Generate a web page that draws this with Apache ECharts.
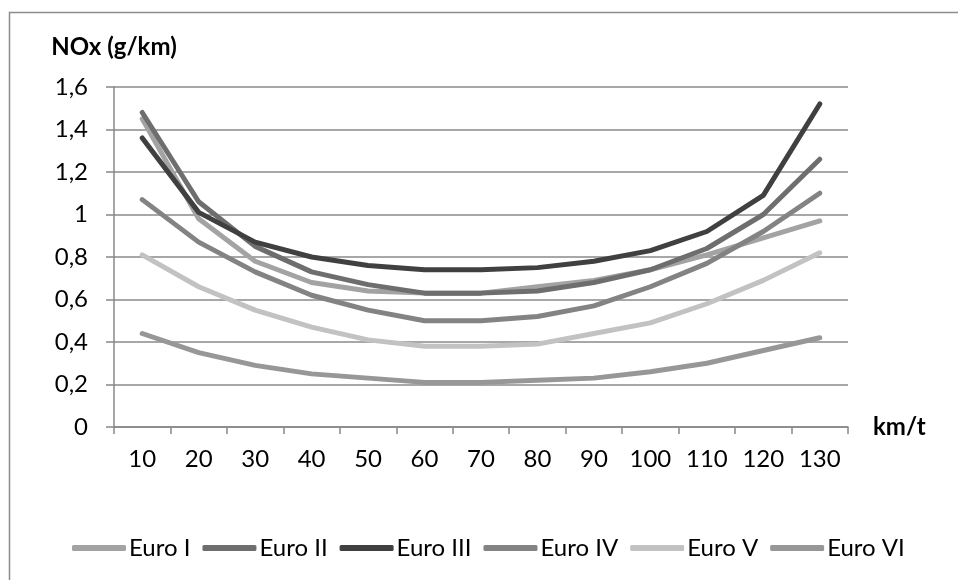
<!DOCTYPE html>
<html>
<head>
<meta charset="utf-8">
<script src="https://cdn.jsdelivr.net/npm/echarts@6/dist/echarts.min.js"></script>
<style>html,body{margin:0;padding:0;background:#fff}#c{width:958px;height:580px}</style>
</head>
<body>
<div id="c"></div>
<script>
var categories = ['10','20','30','40','50','60','70','80','90','100','110','120','130'];
var euroI   = [1.45, 0.98, 0.78, 0.68, 0.64, 0.63, 0.63, 0.66, 0.69, 0.74, 0.81, 0.89, 0.97];
var euroII  = [1.48, 1.06, 0.85, 0.73, 0.67, 0.63, 0.63, 0.64, 0.68, 0.74, 0.84, 1.00, 1.26];
var euroIII = [1.36, 1.01, 0.87, 0.80, 0.76, 0.74, 0.74, 0.75, 0.78, 0.83, 0.92, 1.09, 1.52];
var euroIV  = [1.07, 0.87, 0.73, 0.62, 0.55, 0.50, 0.50, 0.52, 0.57, 0.66, 0.77, 0.92, 1.10];
var euroV   = [0.81, 0.66, 0.55, 0.47, 0.41, 0.38, 0.38, 0.39, 0.44, 0.49, 0.58, 0.69, 0.82];
var euroVI  = [0.44, 0.35, 0.29, 0.25, 0.23, 0.21, 0.21, 0.22, 0.23, 0.26, 0.30, 0.36, 0.42];
var seriesNames = ['Euro I','Euro II','Euro III','Euro IV','Euro V','Euro VI'];
var seriesData = [euroI, euroII, euroIII, euroIV, euroV, euroVI];
var colors = ['#a3a3a3','#6e6e6e','#404040','#838383','#c2c2c2','#979797'];
var FONT = 'Lato';

var chart = echarts.init(document.getElementById('c'), null, {renderer:'canvas'});
chart.setOption({
  animation:false,
  color: colors,
  textStyle:{fontFamily:FONT},
  graphic:[{type:'rect', left:7, top:10, shape:{width:1000, height:700}, style:{fill:'none', stroke:'#8c8c8c', lineWidth:1.5}, silent:true}],
  grid:{left:114, right:110, top:87, bottom:153},
  legend:{
    top:531, left:67,
    icon:'roundRect', itemWidth:54, itemHeight:6, itemGap:12,
    textStyle:{fontFamily:FONT, fontSize:24, color:'#000', padding:[0,0,0,-2]},
    data: seriesNames
  },
  xAxis:{
    type:'category', data:categories, boundaryGap:true,
    name:'km/t', nameLocation:'end', nameGap:25,
    nameTextStyle:{fontFamily:FONT, fontSize:24, fontWeight:'bold', color:'#000'},
    axisLine:{lineStyle:{color:'#888', width:1.5}},
    axisTick:{show:true, length:7, lineStyle:{color:'#888', width:1.5}},
    axisLabel:{fontFamily:FONT, fontSize:24, color:'#000', margin:20}
  },
  yAxis:{
    type:'value', min:0, max:1.6, interval:0.2,
    name:'NOx (g/km)', nameLocation:'end', nameGap:28,
    nameTextStyle:{fontFamily:FONT, fontSize:24, fontWeight:'bold', color:'#000', align:'center'},
    axisLine:{show:true, lineStyle:{color:'#888', width:1.5}},
    axisTick:{show:true, length:8, lineStyle:{color:'#888', width:1.5}},
    splitLine:{lineStyle:{color:'#8a8a8a', width:1.5}},
    axisLabel:{fontFamily:FONT, fontSize:24, color:'#000', margin:26,
      formatter:function(v){ return (Math.round(v*10)/10).toString().replace('.', ','); }}
  },
  series: seriesNames.map(function(n,i){
    return {name:n, type:'line', data:seriesData[i], showSymbol:false, symbol:'none',
      lineStyle:{width:5, color:colors[i], cap:'round', join:'round'}, itemStyle:{color:colors[i]}};
  })
});
</script>
</body>
</html>
